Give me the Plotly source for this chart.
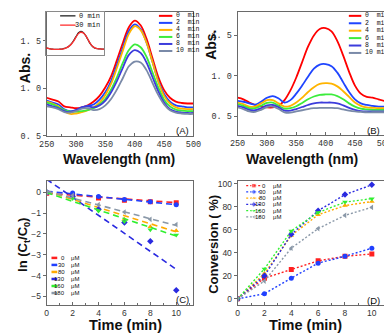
import plotly.graph_objects as go

W, H = 392, 333

# ---------------- data ----------------
wavelength = list(range(250, 501, 10))

# panel A : spectra, first run
abs_a_0 = [0.90, 0.88, 0.86, 0.81, 0.80, 0.79, 0.80, 0.82, 0.86, 0.92, 1.01, 1.13, 1.30,
           1.48, 1.64, 1.71, 1.66, 1.52, 1.32, 1.12, 0.98, 0.90, 0.86, 0.845, 0.84, 0.84]
abs_a_2 = [0.87, 0.85, 0.83, 0.78, 0.76, 0.77, 0.80, 0.815, 0.83, 0.88, 0.96, 1.08, 1.25,
           1.43, 1.60, 1.67, 1.62, 1.48, 1.28, 1.08, 0.94, 0.86, 0.82, 0.81, 0.80, 0.80]
abs_a_4 = [0.86, 0.84, 0.81, 0.76, 0.73, 0.735, 0.75, 0.77, 0.80, 0.85, 0.93, 1.05, 1.22,
           1.40, 1.57, 1.65, 1.61, 1.48, 1.28, 1.07, 0.92, 0.84, 0.80, 0.785, 0.78, 0.78]
abs_a_6 = [0.85, 0.83, 0.80, 0.77, 0.755, 0.755, 0.76, 0.77, 0.79, 0.83, 0.89, 0.99, 1.12,
           1.27, 1.40, 1.46, 1.43, 1.33, 1.17, 1.01, 0.88, 0.81, 0.775, 0.765, 0.76, 0.76]
abs_a_8 = [0.83, 0.81, 0.79, 0.76, 0.75, 0.77, 0.80, 0.81, 0.80, 0.82, 0.87, 0.96, 1.08,
           1.22, 1.35, 1.40, 1.37, 1.27, 1.12, 0.97, 0.85, 0.78, 0.755, 0.745, 0.74, 0.74]
abs_a_10 = [0.81, 0.80, 0.78, 0.75, 0.745, 0.76, 0.785, 0.79, 0.77, 0.78, 0.82, 0.89, 0.99,
            1.11, 1.23, 1.28, 1.27, 1.19, 1.06, 0.93, 0.83, 0.77, 0.745, 0.735, 0.73, 0.73]

# inset of panel A : 0 min vs 30 min
inset_0 = [0.86, 0.84, 0.81, 0.79, 0.78, 0.78, 0.79, 0.80, 0.83, 0.88, 0.96, 1.08, 1.25,
           1.45, 1.63, 1.70, 1.65, 1.50, 1.29, 1.08, 0.93, 0.85, 0.82, 0.81, 0.80, 0.80]
inset_30 = [0.86, 0.84, 0.81, 0.79, 0.78, 0.78, 0.79, 0.80, 0.82, 0.87, 0.95, 1.06, 1.22,
            1.42, 1.59, 1.66, 1.63, 1.50, 1.30, 1.09, 0.94, 0.86, 0.82, 0.81, 0.80, 0.80]

# panel B : spectra, second run
abs_b_0 = [0.73, 0.71, 0.67, 0.64, 0.62, 0.61, 0.61, 0.63, 0.70, 0.82, 0.98, 1.17, 1.36,
           1.50, 1.58, 1.59, 1.55, 1.43, 1.25, 1.05, 0.88, 0.78, 0.74, 0.73, 0.71, 0.69]
abs_b_2 = [0.69, 0.68, 0.66, 0.645, 0.68, 0.73, 0.75, 0.72, 0.67, 0.70, 0.78, 0.88, 0.99,
           1.09, 1.14, 1.145, 1.12, 1.04, 0.92, 0.80, 0.71, 0.66, 0.64, 0.63, 0.62, 0.62]
abs_b_4 = [0.67, 0.65, 0.62, 0.62, 0.66, 0.70, 0.70, 0.66, 0.62, 0.63, 0.67, 0.73, 0.80,
           0.86, 0.90, 0.91, 0.905, 0.87, 0.81, 0.74, 0.67, 0.63, 0.61, 0.605, 0.60, 0.60]
abs_b_6 = [0.65, 0.63, 0.60, 0.60, 0.63, 0.665, 0.67, 0.63, 0.595, 0.60, 0.625, 0.665, 0.71,
           0.745, 0.765, 0.77, 0.77, 0.75, 0.71, 0.66, 0.62, 0.595, 0.585, 0.58, 0.58, 0.58]
abs_b_8 = [0.63, 0.61, 0.58, 0.575, 0.60, 0.635, 0.64, 0.61, 0.57, 0.57, 0.59, 0.615, 0.64,
           0.66, 0.67, 0.67, 0.67, 0.66, 0.635, 0.605, 0.58, 0.565, 0.56, 0.56, 0.56, 0.56]
abs_b_10 = [0.61, 0.59, 0.56, 0.555, 0.58, 0.615, 0.62, 0.59, 0.55, 0.545, 0.56, 0.575, 0.59,
            0.60, 0.605, 0.605, 0.605, 0.60, 0.585, 0.57, 0.56, 0.555, 0.55, 0.55, 0.55, 0.55]

time_labels = ["0  min", "2  min", "4  min", "6  min", "8  min", "10 min"]

# panels C and D
time_min = [0, 2, 4, 6, 8, 10]
conc_labels = ["0", "30", "80", "130", "160", "180"]

ln_0 = [-0.05, -0.15, -0.27, -0.38, -0.45, -0.50]
ln_30 = [-0.02, -0.03, -0.20, -0.35, -0.45, -0.60]
ln_80 = [0.0, -0.25, -0.80, -1.30, -1.65, -1.85]
ln_130 = [0.0, -0.20, -0.82, -1.45, -2.35, -4.70]
ln_160 = [0.0, -0.30, -0.90, -1.40, -1.80, -2.05]
ln_180 = [0.0, -0.15, -0.60, -0.95, -1.30, -1.55]

fit_t = [0, 10]
fit_0 = [-0.05, -0.50]
fit_30 = [0.05, -0.60]
fit_80 = [0.05, -1.90]
fit_130 = [0.62, -3.70]
fit_160 = [-0.02, -2.10]
fit_180 = [0.05, -1.60]

conv_0 = [0, 18, 25.5, 33, 37, 39]
conv_30 = [0, 4.5, 18, 31, 37, 44]
conv_80 = [0, 22, 55, 73, 81, 84.5]
conv_130 = [0, 20, 56, 76.5, 90.5, 99]
conv_160 = [0, 26, 59, 75, 84, 87]
conv_180 = [0, 15.5, 44, 61, 72.5, 79.5]

# ---------------- style ----------------
MONO = "Liberation Mono, Courier New, monospace"
SANS = "Liberation Sans, Arial, sans-serif"
spec_colors = ["#ff0000", "#1f45ff", "#ffb400", "#3cec3c", "#3c3cdc", "#7a8aa8"]
conc_colors = ["#ff2020", "#2040ff", "#ffaa00", "#2a2ae0", "#30f030", "#8a98a8"]
symbols = ["square", "circle", "triangle-up", "diamond", "triangle-down", "triangle-left"]


def px(x):
    return x / W


def py(y):
    return 1 - y / H


fig = go.Figure()

# A
for s, c in zip([abs_a_0, abs_a_2, abs_a_4, abs_a_6, abs_a_8, abs_a_10], spec_colors):
    fig.add_trace(go.Scatter(x=wavelength, y=s, mode="lines", xaxis="x", yaxis="y",
                             line=dict(color=c, width=1.8, shape="spline"), showlegend=False))
# inset
for s, c in zip([inset_0, inset_30], ["#222222", "#ff3030"]):
    fig.add_trace(go.Scatter(x=wavelength, y=s, mode="lines", xaxis="x5", yaxis="y5",
                             line=dict(color=c, width=1.3, shape="spline"), showlegend=False))
# B
for s, c in zip([abs_b_0, abs_b_2, abs_b_4, abs_b_6, abs_b_8, abs_b_10], spec_colors):
    fig.add_trace(go.Scatter(x=wavelength, y=s, mode="lines", xaxis="x2", yaxis="y2",
                             line=dict(color=c, width=1.8, shape="spline"), showlegend=False))
# C
ln_all = [ln_0, ln_30, ln_80, ln_130, ln_160, ln_180]
fit_all = [fit_0, fit_30, fit_80, fit_130, fit_160, fit_180]
for ln, fit, c, sym in zip(ln_all, fit_all, conc_colors, symbols):
    fig.add_trace(go.Scatter(x=fit_t, y=fit, mode="lines", xaxis="x3", yaxis="y3",
                             line=dict(color=c, width=1.6, dash="6px,4px"), showlegend=False))
    fig.add_trace(go.Scatter(x=time_min, y=ln, mode="markers", xaxis="x3", yaxis="y3",
                             marker=dict(color=c, symbol=sym, size=5), showlegend=False))
# D
conv_all = [conv_0, conv_30, conv_80, conv_130, conv_160, conv_180]
for cv, c, sym in zip(conv_all, conc_colors, symbols):
    fig.add_trace(go.Scatter(x=time_min, y=cv, mode="lines+markers", xaxis="x4", yaxis="y4",
                             line=dict(color=c, width=1.4, dash="2px,2px"),
                             marker=dict(color=c, symbol=sym, size=5), showlegend=False))

# ---------------- legends ----------------
shapes = []
annotations = []


def ann(text, x, y, size, family=SANS, xanchor="center", angle=0, color="#111"):
    annotations.append(dict(text=text, x=px(x), y=py(y), xref="paper", yref="paper",
                            xanchor=xanchor, yanchor="middle", showarrow=False, textangle=angle,
                            font=dict(family=family, size=size, color=color)))


def seg(x0, x1, y, color, width, dash="solid"):
    shapes.append(dict(type="line", xref="paper", yref="paper", x0=px(x0), x1=px(x1),
                       y0=py(y), y1=py(y), line=dict(color=color, width=width, dash=dash)))


# A legend
for i, (lab, c) in enumerate(zip(time_labels, spec_colors)):
    y = 6 + 7.2 * i
    seg(149, 163, y, c, 2)
    ann(lab, 165, y, 6.5, family=MONO, xanchor="left")
# B legend
for i, (lab, c) in enumerate(zip(time_labels, spec_colors)):
    y = 6 + 7.6 * i
    seg(347, 360, y, c, 2)
    ann(lab, 362, y, 6.5, family=MONO, xanchor="left")
# inset legend
for i, (lab, c) in enumerate(zip(["0 min", "30 min"], ["#222222", "#ff3030"])):
    y = 6 + 9.5 * i
    seg(46, 62, y, c, 1.3)
    ann(lab, 90, y, 7, family=MONO, xanchor="right")
# C legend
for i, (lab, c) in enumerate(zip(conc_labels, conc_colors)):
    y = 254 + 7.2 * i
    seg(37, 43, y, c, 2.5)
    ann(lab, 53, y, 6, xanchor="right")
    ann("μM", 55, y, 6, xanchor="left")
# D legend (line + marker keys on a full-page pixel overlay)
for i, (lab, c, sym) in enumerate(zip(conc_labels, conc_colors, symbols)):
    y = 180 + 6.4 * i
    fig.add_trace(go.Scatter(x=[240, 248, 256], y=[y, y, y], mode="lines+markers",
                             xaxis="x7", yaxis="y7", showlegend=False,
                             line=dict(color=c, width=1.2, dash="2px,2px"),
                             marker=dict(color=c, symbol=sym, size=[0, 4.5, 0])))
    ann(lab, 263, y, 6, xanchor="right")
    ann("μM", 266, y, 6, xanchor="left")

# titles and panel labels
ann("<b>Abs.</b>", 9, 60, 14, angle=-90)
ann("<b>Abs.</b>", 203, 36, 14, angle=-90)
ann("<b>Wavelength (nm)</b>", 107, 153, 14)
ann("<b>Wavelength (nm)</b>", 298, 153, 14)
ann("<b>ln (C<sub>t</sub>/C<sub>0</sub>)</b>", 8, 241, 13, angle=-90)
ann("<b>Conversion ( %)</b>", 206, 240, 13, angle=-90)
ann("<b>Time (min)</b>", 114, 323, 14.5)
ann("<b>Time (min)</b>", 302, 323, 14.5)
ann("(A)", 182, 123, 9.5, xanchor="right")
ann("(B)", 382, 123, 9.5, xanchor="right")
ann("(C)", 182, 297, 9.5, xanchor="right")
ann("(D)", 382, 298, 9.5, xanchor="right")

frame = dict(showline=True, linecolor="#6a6a6a", linewidth=1, mirror=True,
             ticklen=3, tickcolor="#6a6a6a", showgrid=False, zeroline=False)
mono_tick = dict(family=MONO, size=8.5, color="#333")
sans_tick = dict(family=SANS, size=8.5, color="#333")

fig.update_layout(
    width=W, height=H, margin=dict(l=0, r=0, t=0, b=0),
    paper_bgcolor="white", plot_bgcolor="rgba(0,0,0,0)",
    shapes=shapes, annotations=annotations,
    xaxis=dict(domain=[px(32), px(185)], anchor="y", range=[250, 500], tick0=250, dtick=50,
               ticks="inside", tickfont=mono_tick,
               minor=dict(dtick=25, ticks="inside", ticklen=2), **frame),
    yaxis=dict(domain=[py(129), py(2)], anchor="x", range=[0.5, 1.8], tickvals=[0.5, 1.0, 1.5],
               ticks="outside", ticktext=["0. 5", "1. 0", "1. 5"], tickfont=mono_tick, **frame),
    xaxis2=dict(domain=[px(231), px(384)], anchor="y2", range=[250, 500], tick0=250, dtick=50,
                ticks="inside", tickfont=mono_tick,
                minor=dict(dtick=25, ticks="inside", ticklen=2), **frame),
    yaxis2=dict(domain=[py(128), py(2)], anchor="x2", range=[0.27, 1.79], tickvals=[0.5, 1.0, 1.5],
                ticks="outside", ticktext=["0. 5", "1. 0", "1. 5"], tickfont=mono_tick, **frame),
    xaxis3=dict(domain=[px(32), px(185)], anchor="y3", range=[0, 11.33], tick0=0, dtick=2,
                ticks="inside", tickfont=sans_tick,
                minor=dict(dtick=1, ticks="inside", ticklen=2), **frame),
    yaxis3=dict(domain=[py(302), py(175)], anchor="x3", range=[-5.4, 0.55], tick0=0, dtick=1,
                ticks="outside", tickfont=sans_tick, **frame),
    xaxis4=dict(domain=[px(231), px(384)], anchor="y4", range=[0, 10.93], tick0=0, dtick=2,
                ticks="inside", tickfont=sans_tick,
                minor=dict(dtick=1, ticks="inside", ticklen=2), **frame),
    yaxis4=dict(domain=[py(302), py(175)], anchor="x4", range=[-5.1, 102.5], tick0=0, dtick=20,
                ticks="outside", tickfont=sans_tick, **frame),
    xaxis5=dict(domain=[px(31), px(92)], anchor="y5", range=[250, 500], showline=True,
                linecolor="#8a8a8a", mirror=True, showticklabels=False, ticks="",
                showgrid=False, zeroline=False),
    yaxis5=dict(domain=[py(46), py(2)], anchor="x5", range=[0.5, 2.7], showline=True,
                linecolor="#8a8a8a", mirror=True, showticklabels=False, ticks="",
                showgrid=False, zeroline=False),
    xaxis7=dict(domain=[0, 1], anchor="y7", range=[0, W], visible=False),
    yaxis7=dict(domain=[0, 1], anchor="x7", range=[H, 0], visible=False),
)

fig.write_html("out.html")
